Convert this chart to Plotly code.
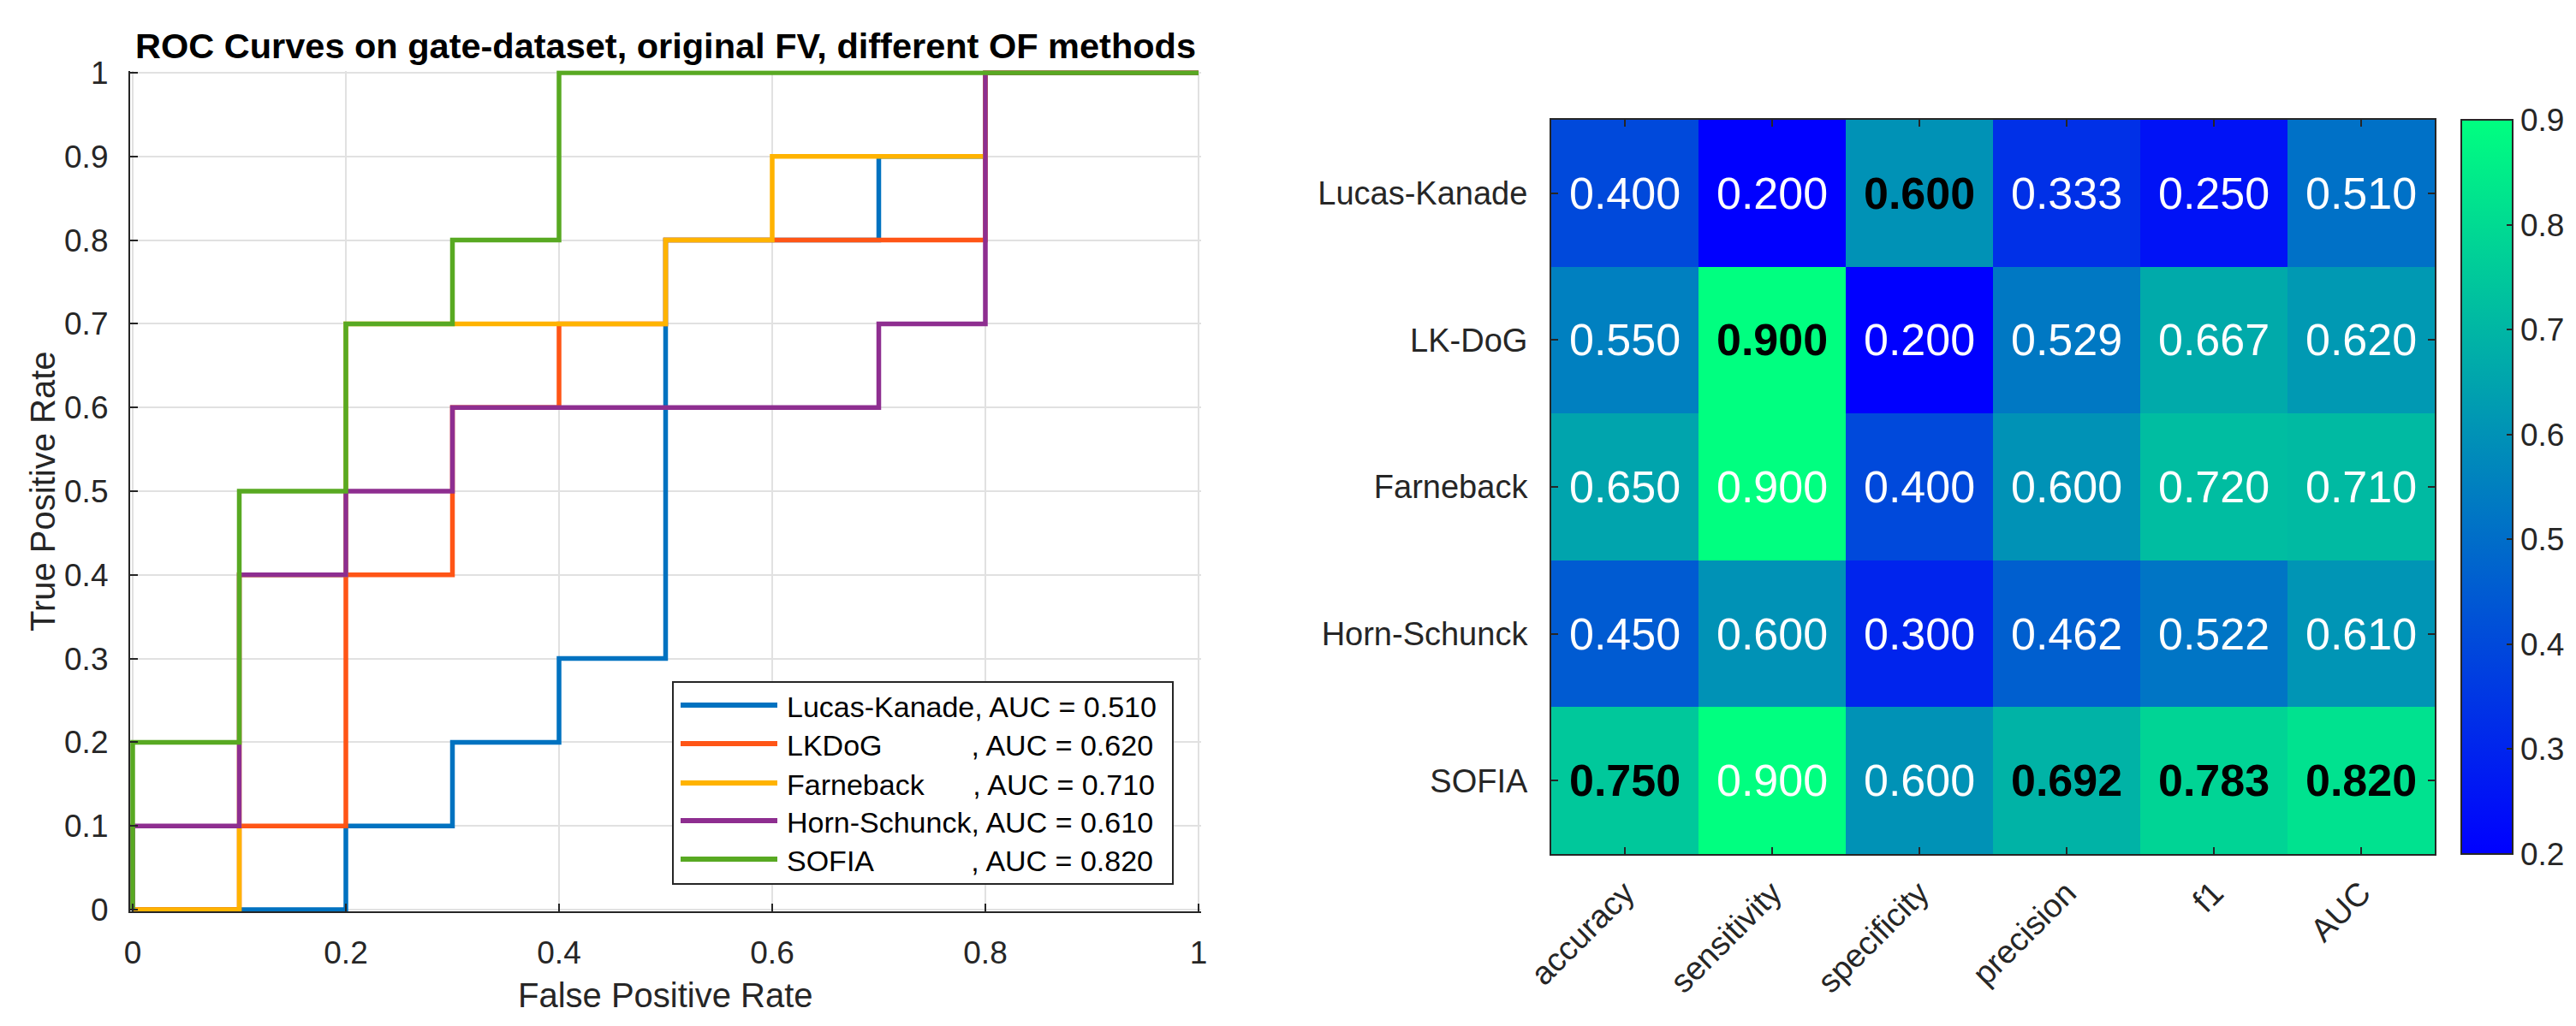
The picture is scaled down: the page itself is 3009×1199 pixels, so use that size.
import plotly.graph_objects as go

W, H = 3009, 1199
FONT = "Liberation Sans, Arial, Helvetica, sans-serif"
AX = "#262626"

# ---------------- ROC data ----------------
roc_names = ["Lucas-Kanade", "LKDoG", "Farneback", "Horn-Schunck", "SOFIA"]
roc_auc = [0.510, 0.620, 0.710, 0.610, 0.820]
roc_colors = ["#0072C0", "#FF5516", "#FFB300", "#8E2E90", "#58A922"]
roc_pad = [0, 11, 6, 0, 12]  # non-breaking spaces used to align the commas

fpr_lk = [0, 0.2, 0.2, 0.3, 0.3, 0.4, 0.4, 0.5, 0.5, 0.7, 0.7, 0.8, 0.8, 1.0]
tpr_lk = [0, 0.0, 0.1, 0.1, 0.2, 0.2, 0.3, 0.3, 0.8, 0.8, 0.9, 0.9, 1.0, 1.0]

fpr_lkdog = [0, 0.1, 0.1, 0.2, 0.2, 0.3, 0.3, 0.4, 0.4, 0.5, 0.5, 0.8, 0.8, 1.0]
tpr_lkdog = [0, 0.0, 0.1, 0.1, 0.4, 0.4, 0.6, 0.6, 0.7, 0.7, 0.8, 0.8, 1.0, 1.0]

fpr_farn = [0, 0.1, 0.1, 0.2, 0.2, 0.5, 0.5, 0.6, 0.6, 0.8, 0.8, 1.0]
tpr_farn = [0, 0.0, 0.4, 0.4, 0.7, 0.7, 0.8, 0.8, 0.9, 0.9, 1.0, 1.0]

fpr_hs = [0, 0.0, 0.1, 0.1, 0.2, 0.2, 0.3, 0.3, 0.7, 0.7, 0.8, 0.8, 1.0]
tpr_hs = [0, 0.1, 0.1, 0.4, 0.4, 0.5, 0.5, 0.6, 0.6, 0.7, 0.7, 1.0, 1.0]

fpr_sofia = [0, 0.0, 0.1, 0.1, 0.2, 0.2, 0.3, 0.3, 0.4, 0.4, 1.0]
tpr_sofia = [0, 0.2, 0.2, 0.5, 0.5, 0.7, 0.7, 0.8, 0.8, 1.0, 1.0]

roc_fpr = [fpr_lk, fpr_lkdog, fpr_farn, fpr_hs, fpr_sofia]
roc_tpr = [tpr_lk, tpr_lkdog, tpr_farn, tpr_hs, tpr_sofia]

roc_xticks = [0, 0.2, 0.4, 0.6, 0.8, 1.0]
roc_xticktext = ["0", "0.2", "0.4", "0.6", "0.8", "1"]
roc_yticks = [0, 0.1, 0.2, 0.3, 0.4, 0.5, 0.6, 0.7, 0.8, 0.9, 1.0]
roc_yticktext = ["0", "0.1", "0.2", "0.3", "0.4", "0.5", "0.6", "0.7", "0.8", "0.9", "1"]

# ---------------- Heatmap data ----------------
hm_methods = ["Lucas-Kanade", "LK-DoG", "Farneback", "Horn-Schunck", "SOFIA"]
hm_metrics = ["accuracy", "sensitivity", "specificity", "precision", "f1", "AUC"]
hm_values = [
    [0.400, 0.200, 0.600, 0.333, 0.250, 0.510],
    [0.550, 0.900, 0.200, 0.529, 0.667, 0.620],
    [0.650, 0.900, 0.400, 0.600, 0.720, 0.710],
    [0.450, 0.600, 0.300, 0.462, 0.522, 0.610],
    [0.750, 0.900, 0.600, 0.692, 0.783, 0.820],
]
hm_best = [
    [0, 0, 1, 0, 0, 0],
    [0, 1, 0, 0, 0, 0],
    [0, 0, 0, 0, 0, 0],
    [0, 0, 0, 0, 0, 0],
    [1, 0, 0, 1, 1, 1],
]
cbar_ticks = [0.2, 0.3, 0.4, 0.5, 0.6, 0.7, 0.8, 0.9]
cbar_ticktext = ["0.2", "0.3", "0.4", "0.5", "0.6", "0.7", "0.8", "0.9"]

# ---------------- geometry (pixels) ----------------
L_X0, L_X1, L_Y0, L_Y1 = 147, 1392, 77, 1055   # ROC axes: left, right, top, bottom
PAD = 0.0025
upx = (L_X1 - L_X0)
upy = (L_Y1 - L_Y0)
H_X0, H_X1, H_Y0, H_Y1 = 1804, 2836, 132, 990  # heatmap axes
CB_X0, CB_W = 2867, 60

def px(x):
    return x / W

def py(y):
    return 1 - y / H

fig = go.Figure()

for name, xs, ys, col in zip(roc_names, roc_fpr, roc_tpr, roc_colors):
    fig.add_trace(go.Scatter(x=xs, y=ys, mode="lines", name=name,
                             line=dict(color=col, width=5.5),
                             xaxis="x", yaxis="y", showlegend=False))

fig.add_trace(go.Heatmap(
    z=hm_values, x=hm_metrics, y=hm_methods, xaxis="x2", yaxis="y2",
    colorscale=[[0, "rgb(0,0,255)"], [1, "rgb(0,255,128)"]],
    zmin=0.2, zmax=0.9, showscale=True,
    colorbar=dict(
        x=px(CB_X0), xanchor="left", xref="paper", xpad=0, ypad=0,
        y=py(H_Y0), yanchor="top", len=(H_Y1 - H_Y0) / H, lenmode="fraction",
        thickness=CB_W, thicknessmode="pixels",
        outlinewidth=2, outlinecolor=AX,
        tickvals=cbar_ticks, ticktext=cbar_ticktext,
        ticks="inside", ticklen=8, tickcolor=AX, tickwidth=2,
        tickfont=dict(family=FONT, size=37, color=AX),
    ),
    hoverinfo="skip",
))

axis_common = dict(
    automargin=False,
    showgrid=True, gridcolor="#E1E1E1", gridwidth=2, zeroline=False,
    showline=True, linecolor=AX, linewidth=2,
    ticks="inside", ticklen=9, tickwidth=2, tickcolor=AX,
    tickfont=dict(family=FONT, size=37, color=AX),
)

fig.update_layout(
    width=W, height=H, margin=dict(l=0, r=0, t=0, b=0, autoexpand=False),
    paper_bgcolor="white", plot_bgcolor="white",
    font=dict(family=FONT, color=AX),
    xaxis=dict(domain=[px(L_X0 - PAD * upx), px(L_X1 + PAD * upx)],
               range=[-PAD, 1 + PAD], anchor="y",
               tickvals=roc_xticks, ticktext=roc_xticktext,
               ticklabelstandoff=14, **axis_common),
    yaxis=dict(domain=[py(L_Y1 + PAD * upy), py(L_Y0 - PAD * upy)],
               range=[-PAD, 1 + PAD], anchor="x",
               tickvals=roc_yticks, ticktext=roc_yticktext,
               ticklabelstandoff=16, **axis_common),
    xaxis2=dict(domain=[px(H_X0), px(H_X1)], anchor="y2", automargin=False,
                showgrid=False, zeroline=False, showline=True, mirror="ticks",
                linecolor=AX, linewidth=2, ticks="inside", ticklen=8, tickwidth=2,
                tickcolor=AX, tickangle=-45, ticklabelstandoff=6,
                tickfont=dict(family=FONT, size=38, color=AX)),
    yaxis2=dict(domain=[py(H_Y1), py(H_Y0)], anchor="x2", autorange="reversed",
                automargin=False,
                showgrid=False, zeroline=False, showline=True, mirror="ticks",
                linecolor=AX, linewidth=2, ticks="inside", ticklen=8, tickwidth=2,
                tickcolor=AX, ticklabelstandoff=18,
                tickfont=dict(family=FONT, size=38, color=AX)),
)

annotations = []
# title and axis labels of ROC plot
annotations.append(dict(text="<b>ROC Curves on gate-dataset, original FV, different OF methods</b>",
                        x=px((L_X0 + L_X1) / 2), y=py(46), xref="paper", yref="paper",
                        showarrow=False, xanchor="center", yanchor="middle",
                        font=dict(family=FONT, size=41.5, color="#000000")))
annotations.append(dict(text="False Positive Rate", x=px((L_X0 + L_X1) / 2), y=py(1155),
                        xref="paper", yref="paper", showarrow=False,
                        xanchor="center", yanchor="middle",
                        font=dict(family=FONT, size=40, color=AX)))
annotations.append(dict(text="True Positive Rate", x=px(42), y=py((L_Y0 + L_Y1) / 2),
                        xref="paper", yref="paper", showarrow=False, textangle=-90,
                        xanchor="center", yanchor="middle",
                        font=dict(family=FONT, size=40, color=AX)))

# custom legend (box, sample lines, texts)
shapes = []
LG_X0, LG_X1, LG_Y0, LG_Y1 = 778, 1362, 789, 1025
shapes.append(dict(type="rect", xref="paper", yref="paper",
                   x0=px(LG_X0), x1=px(LG_X1), y0=py(LG_Y1), y1=py(LG_Y0),
                   line=dict(color=AX, width=2), fillcolor="white", layer="above"))
row_y = [816, 861, 907, 951, 996]
for i, (name, auc, col, pad) in enumerate(zip(roc_names, roc_auc, roc_colors, roc_pad)):
    shapes.append(dict(type="line", xref="paper", yref="paper",
                       x0=px(787), x1=px(900), y0=py(row_y[i]), y1=py(row_y[i]),
                       line=dict(color=col, width=6), layer="above"))
    label = name + "\u00a0" * pad + f", AUC = {auc:.3f}"
    annotations.append(dict(text=label, x=px(909), y=py(row_y[i] + 2),
                            xref="paper", yref="paper", showarrow=False,
                            xanchor="left", yanchor="middle",
                            font=dict(family=FONT, size=34, color="#000000")))

# heatmap cell texts
for r, meth in enumerate(hm_methods):
    for c, met in enumerate(hm_metrics):
        v = hm_values[r][c]
        if hm_best[r][c]:
            txt, colr = f"<b>{v:.3f}</b>", "#000000"
        else:
            txt, colr = f"{v:.3f}", "#FFFFFF"
        annotations.append(dict(text=txt, x=met, y=meth, xref="x2", yref="y2",
                                showarrow=False, xanchor="center", yanchor="middle",
                                font=dict(family=FONT, size=52, color=colr)))

fig.update_layout(annotations=annotations, shapes=shapes)
fig.write_html("out.html")
